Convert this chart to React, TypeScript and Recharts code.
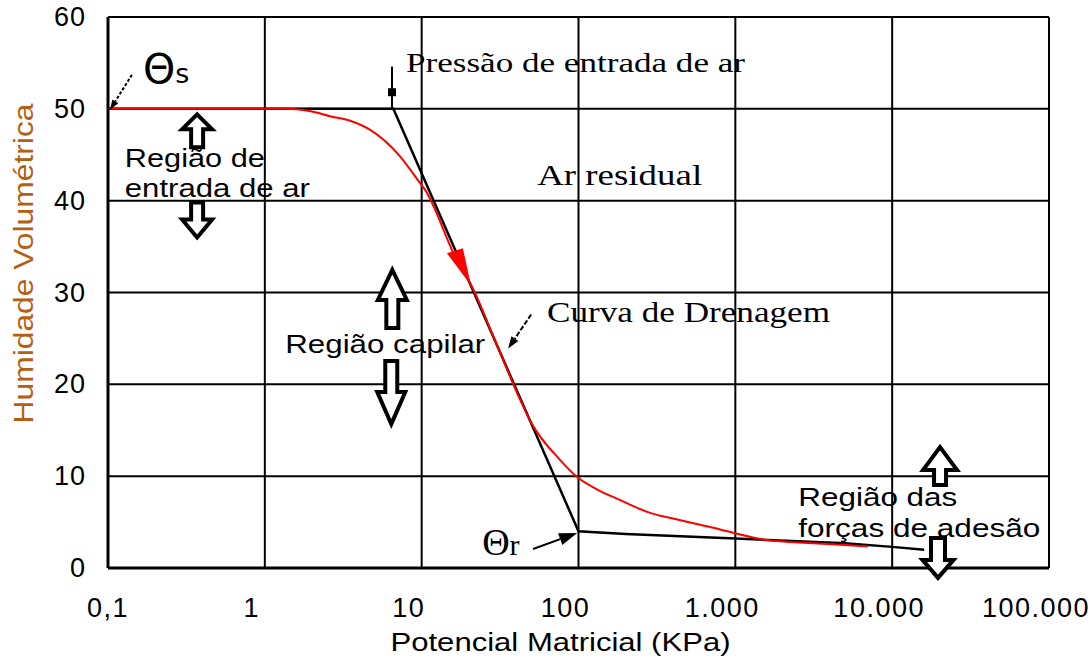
import { LineChart, Line, XAxis, YAxis, CartesianGrid, ReferenceLine, ReferenceDot, Label } from 'recharts';

// eixos
const xTicks = [0.1, 1, 10, 100, 1000, 10000, 100000];
const xTickLabels = ['0,1', '1', '10', '100', '1.000', '10.000', '100.000'];
const yTicks = [0, 10, 20, 30, 40, 50, 60];

// linha preta (aproximação bilinear: θs -> pressão de entrada de ar -> θr -> residual)
const retaX = [0.1, 6.6, 100, 200, 1000, 5000, 10000, 16000];
const retaY = [50, 50, 4.0, 3.7, 3.2, 2.7, 2.3, 2.0];

// curva de drenagem (vermelha)
const curvaX = [0.1, 1.4, 2.0, 2.6, 3.5, 4.7, 7.3, 9.4, 10.5, 17, 20.4, 30, 42, 49, 76, 98, 130, 184, 286, 420, 597, 800, 1040, 1580, 3150, 6300, 7000];
const curvaY = [50, 50, 49.7, 49.2, 48.7, 47.7, 44.8, 42.3, 41.2, 33.3, 31.0, 24.4, 18.5, 16.1, 11.8, 9.9, 8.6, 7.4, 6.0, 5.3, 4.7, 4.2, 3.7, 3.05, 2.7, 2.4, 2.35];

const reta = retaX.map((x, i) => ({ x, y: retaY[i] }));
const curva = curvaX.map((x, i) => ({ x, y: curvaY[i] }));

const SANS = '"Liberation Sans", Arial, sans-serif';
const SERIF = '"Liberation Serif", "Times New Roman", serif';

function XTick(props: any) {
  const { x, y, index } = props;
  const dx = index === 0 ? 0 : -13;
  return (
    <text x={x + dx} y={y + 24} textAnchor="middle" fontFamily={SANS} fontSize={27} letterSpacing={1.5} fill="#000">
      {xTickLabels[index]}
    </text>
  );
}

function YTick(props: any) {
  const { x, y, payload } = props;
  return (
    <text x={x} y={y} dy={9} textAnchor="end" fontFamily={SANS} fontSize={27} letterSpacing={1} fill="#000">
      {payload.value}
    </text>
  );
}

function XTitle({ viewBox }: any) {
  const { x, y, width } = viewBox;
  return (
    <text x={x + width / 2 - 18} y={y + 83} textAnchor="middle" fontFamily={SANS} fontSize={26} textLength={340} lengthAdjust="spacingAndGlyphs" fill="#000">
      Potencial Matricial (KPa)
    </text>
  );
}

function YTitle({ viewBox }: any) {
  const { y, height } = viewBox;
  const cx = 33;
  const cy = y + height / 2 - 29;
  return (
    <text x={cx} y={cy} transform={`rotate(-90 ${cx} ${cy})`} textAnchor="middle" fontFamily={SANS} fontSize={27} textLength={320} lengthAdjust="spacingAndGlyphs" fill="#B45F12">
      Humidade Volumétrica
    </text>
  );
}

// textos de anotação
const texto = (t: string, font: string, size: number, len: number) => (p: any) => (
  <text x={p.cx} y={p.cy} fontFamily={font} fontSize={size} textLength={len} lengthAdjust="spacingAndGlyphs" fill="#000">
    {t}
  </text>
);

const theta = (sub: string, font: string, big: number, small: number) => (p: any) => (
  <text x={p.cx} y={p.cy} fontFamily={font} fill="#000">
    <tspan fontSize={big}>Θ</tspan>
    <tspan fontSize={small}>{sub}</tspan>
  </text>
);

// setas em bloco (contorno)
const bloco = (dir: 'up' | 'down', W: number, H: number, h: number, w: number) => (p: any) => {
  const { cx, cy } = p;
  const s = dir === 'up' ? 1 : -1;
  const tip = cy - s * H / 2;
  const base = cy + s * H / 2;
  const neck = tip + s * h;
  const d = `M${cx},${tip} L${cx + W / 2},${neck} L${cx + w / 2},${neck} L${cx + w / 2},${base} L${cx - w / 2},${base} L${cx - w / 2},${neck} L${cx - W / 2},${neck} Z`;
  return <path d={d} fill="#fff" stroke="#000" strokeWidth={4} strokeLinejoin="miter" />;
};

// linha com ponta de seta
const seta = (dash: string | undefined, head: number, quadrado = false) => (p: any) => {
  const { x1, y1, x2, y2 } = p;
  const ang = Math.atan2(y2 - y1, x2 - x1);
  const bx = x2 - head * Math.cos(ang);
  const by = y2 - head * Math.sin(ang);
  const hw = head * 0.35;
  const nx = -Math.sin(ang) * hw;
  const ny = Math.cos(ang) * hw;
  const mx = x1 + (x2 - x1) * 0.62;
  const my = y1 + (y2 - y1) * 0.62;
  return (
    <g>
      <line x1={x1} y1={y1} x2={bx} y2={by} stroke="#000" strokeWidth={2} strokeDasharray={dash} />
      {head > 0 && <polygon points={`${x2},${y2} ${bx + nx},${by + ny} ${bx - nx},${by - ny}`} fill="#000" />}
      {quadrado && <rect x={mx - 4} y={my - 4} width={8} height={8} fill="#000" />}
    </g>
  );
};

const pontaVermelha = (p: any) => {
  const { cx, cy } = p;
  return <polygon points={`${cx},${cy} ${cx - 24},${cy - 32} ${cx - 8},${cy - 37}`} fill="#FF0000" />;
};

export default function App() {
  return (
    <div style={{ position: 'absolute', left: 0, top: 0, background: '#fff' }}>
      <LineChart width={1092} height={657} margin={{ top: 17, right: 43, bottom: 0, left: 0 }}>
        <CartesianGrid stroke="#000" strokeWidth={2} />
        <XAxis
          dataKey="x"
          type="number"
          scale="log"
          domain={[0.1, 100000]}
          ticks={xTicks}
          allowDataOverflow
          height={89}
          axisLine={{ stroke: '#000', strokeWidth: 3 }}
          tickLine={false}
          tickSize={0}
          tickMargin={25}
          tick={<XTick />}
        >
          <Label content={<XTitle />} />
        </XAxis>
        <YAxis
          type="number"
          domain={[0, 60]}
          ticks={yTicks}
          width={108}
          axisLine={{ stroke: '#000', strokeWidth: 3 }}
          tickLine={false}
          tickSize={0}
          tickMargin={22}
          tick={<YTick />}
        >
          <Label content={<YTitle />} />
        </YAxis>

        <Line data={reta} dataKey="y" type="linear" stroke="#000" strokeWidth={2.5} dot={false} isAnimationActive={false} />
        <Line data={curva} dataKey="y" type="monotone" stroke="#FF0000" strokeWidth={2} dot={false} isAnimationActive={false} />

        {/* setas e marcadores */}
        <ReferenceLine segment={[{ x: 0.142, y: 53.7 }, { x: 0.103, y: 49.9 }]} shape={seta('3 2', 10)} />
        <ReferenceLine segment={[{ x: 6.47, y: 54.6 }, { x: 6.47, y: 50.1 }]} shape={seta(undefined, 0, true)} />
        <ReferenceLine segment={[{ x: 49.9, y: 27.6 }, { x: 35.6, y: 23.9 }]} shape={seta('5 2', 12)} />
        <ReferenceLine segment={[{ x: 51.3, y: 2.07 }, { x: 98, y: 3.81 }]} shape={seta(undefined, 18)} />
        <ReferenceDot x={20.6} y={30.8} r={1} shape={pontaVermelha} />

        {/* setas em bloco */}
        <ReferenceDot x={0.37} y={47.6} r={1} shape={bloco('up', 30, 33, 15, 12)} />
        <ReferenceDot x={0.37} y={37.9} r={1} shape={bloco('down', 30, 35, 18, 12)} />
        <ReferenceDot x={6.5} y={29.3} r={1} shape={bloco('up', 29, 58, 30, 12)} />
        <ReferenceDot x={6.4} y={19.1} r={1} shape={bloco('down', 28, 63, 32, 12)} />
        <ReferenceDot x={20200} y={11.1} r={1} shape={bloco('up', 34, 38, 23, 12)} />
        <ReferenceDot x={19600} y={1.1} r={1} shape={bloco('down', 31, 40, 18, 14)} />

        {/* textos */}
        <ReferenceDot x={0.167} y={52.8} r={1} shape={theta('s', '"DejaVu Sans", sans-serif', 41, 27)} />
        <ReferenceDot x={24.3} y={1.42} r={1} shape={theta('r', SERIF, 38, 30)} />
        <ReferenceDot x={7.95} y={54.0} r={1} shape={texto('Pressão de entrada de ar', SERIF, 27, 339)} />
        <ReferenceDot x={54.5} y={41.7} r={1} shape={texto('Ar residual', SERIF, 29, 165)} />
        <ReferenceDot x={63} y={26.8} r={1} shape={texto('Curva de Drenagem', SERIF, 29, 283)} />
        <ReferenceDot x={0.128} y={43.7} r={1} shape={texto('Região de', SANS, 26, 140)} />
        <ReferenceDot x={0.128} y={40.4} r={1} shape={texto('entrada de ar', SANS, 26, 185)} />
        <ReferenceDot x={1.35} y={23.4} r={1} shape={texto('Região capilar', SANS, 26, 200)} />
        <ReferenceDot x={2520} y={6.75} r={1} shape={texto('Região das', SANS, 26, 159)} />
        <ReferenceDot x={2520} y={3.38} r={1} shape={texto('forças de adesão', SANS, 26, 242)} />
      </LineChart>
    </div>
  );
}
